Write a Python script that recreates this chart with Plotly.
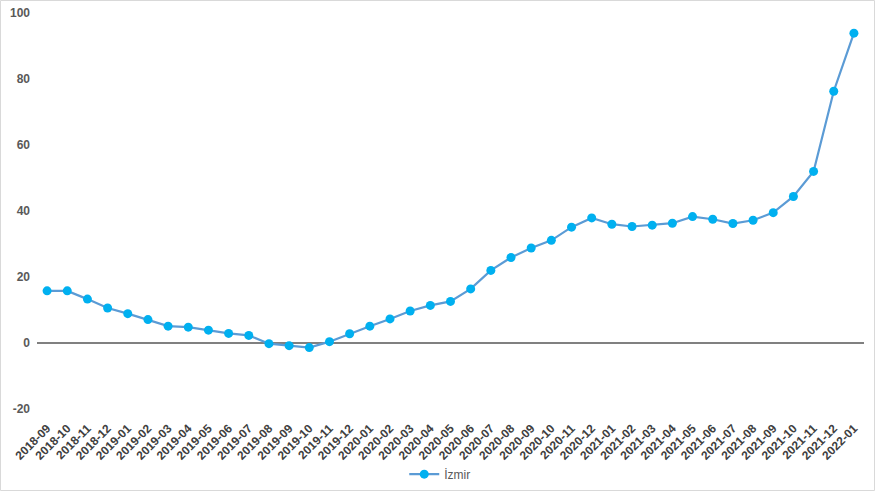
import plotly.graph_objects as go

months = ["2018-09","2018-10","2018-11","2018-12","2019-01","2019-02","2019-03","2019-04","2019-05","2019-06",
          "2019-07","2019-08","2019-09","2019-10","2019-11","2019-12","2020-01","2020-02","2020-03","2020-04",
          "2020-05","2020-06","2020-07","2020-08","2020-09","2020-10","2020-11","2020-12","2021-01","2021-02",
          "2021-03","2021-04","2021-05","2021-06","2021-07","2021-08","2021-09","2021-10","2021-11","2021-12","2022-01"]
izmir = [15.8, 15.8, 13.3, 10.6, 8.9, 7.1, 5.1, 4.8, 3.9, 2.9,
         2.3, -0.2, -0.8, -1.4, 0.4, 2.8, 5.1, 7.3, 9.7, 11.4,
         12.6, 16.4, 22.0, 25.9, 28.8, 31.1, 35.1, 37.9, 36.0, 35.3,
         35.7, 36.3, 38.3, 37.5, 36.2, 37.2, 39.5, 44.4, 52.0, 76.3, 93.9]
y_ticks = [-20, 0, 20, 40, 60, 80, 100]
y_tick_labels = ["-20", "0", "20", "40", "60", "80", "100"]

fig = go.Figure()
fig.add_trace(go.Scatter(
    x=months, y=izmir, mode="lines+markers", name="İzmir",
    line=dict(color="#5B9BD5", width=2.2),
    marker=dict(color="#00B0F0", size=9),
))

W, H = 875, 491
ml, mr, mt, mb = 37, 11, 13, 82
fig.update_layout(
    width=W, height=H,
    margin=dict(l=ml, r=mr, t=mt, b=mb, autoexpand=False),
    plot_bgcolor="white", paper_bgcolor="white",
    font=dict(family="Liberation Sans, Arial", color="#595959"),
    showlegend=True,
    legend=dict(orientation="h", x=0.487, xanchor="center", y=-0.128, yanchor="top",
                font=dict(size=12, color="#595959")),
    xaxis=dict(type="category", tickangle=-45, showgrid=False, showline=False, ticks="",
               automargin=False, ticklabelstandoff=9,
               tickfont=dict(size=12, color="#404040", family="Liberation Sans, Arial", weight="bold"),
               range=[-0.5, len(months) - 0.5]),
    yaxis=dict(range=[-20, 100], tickvals=y_ticks, ticktext=y_tick_labels,
               showgrid=False, showline=False,
               automargin=False, ticklabelstandoff=6,
               zeroline=True, zerolinecolor="#808080", zerolinewidth=1.5, ticks="",
               tickfont=dict(size=12, color="#595959", family="Liberation Sans, Arial", weight="bold")),
)
pw = W - ml - mr
ph = H - mt - mb
fig.add_shape(type="rect", xref="paper", yref="paper",
              x0=-ml / pw + 0.5 / pw, x1=1 + (mr - 0.5) / pw,
              y0=-mb / ph + 0.5 / ph, y1=1 + (mt - 0.5) / ph,
              line=dict(color="#D9D9D9", width=1), layer="below")
fig.write_html("out.html", config={"displayModeBar": False},
               post_script="document.body.style.margin='0';document.body.style.overflow='hidden';")
